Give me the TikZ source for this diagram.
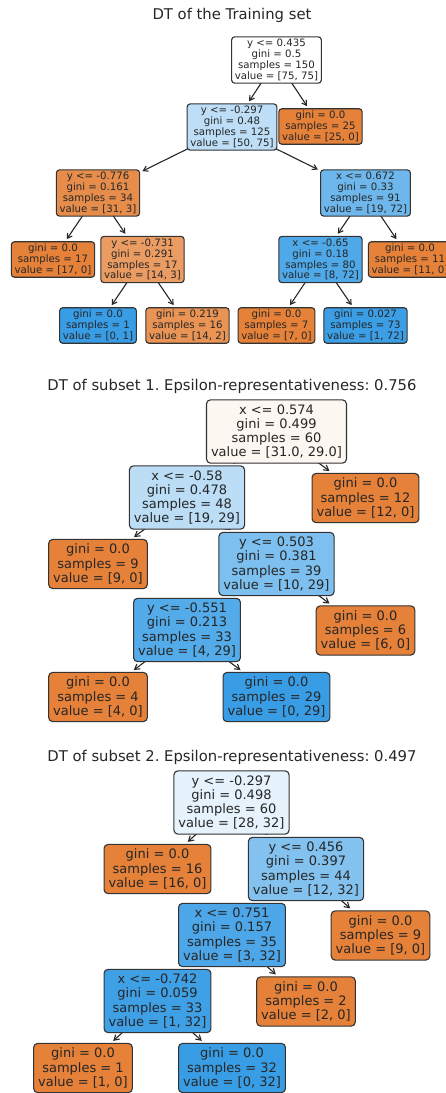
\documentclass[tikz,border=0pt]{standalone}
\usepackage{fontspec}
\setmainfont{DejaVu Sans}
\usetikzlibrary{arrows.meta,backgrounds}
\frenchspacing
\definecolor{org}{RGB}{229,129,57}
\definecolor{blu}{RGB}{57,157,229}
\definecolor{ca1}{RGB}{189,222,246}
\definecolor{ca3}{RGB}{231,141,76}
\definecolor{ca4}{RGB}{109,183,236}
\definecolor{ca6}{RGB}{235,156,99}
\definecolor{ca7}{RGB}{79,168,232}
\definecolor{ca10}{RGB}{233,147,85}
\definecolor{ca12}{RGB}{60,158,229}
\definecolor{cb0}{RGB}{253,247,242}
\definecolor{cb1}{RGB}{187,221,246}
\definecolor{cb4}{RGB}{125,191,238}
\definecolor{cb5}{RGB}{84,171,233}
\definecolor{cc0}{RGB}{230,243,252}
\definecolor{cc2}{RGB}{131,194,239}
\definecolor{cc3}{RGB}{76,166,231}
\definecolor{cc5}{RGB}{63,160,230}
\definecolor{ink}{RGB}{38,38,38}
\tikzset{
  nd/.style={draw=black!80, line width=1.1pt, align=center, text=ink},
  tz/.style={nd, rounded corners=3pt, font=\fontsize{10.2}{10.9}\selectfont, inner xsep=3.2pt, inner ysep=2.3pt},
  to/.style={nd, rounded corners=4pt, font=\fontsize{13}{14.3}\selectfont, inner xsep=4.5pt, inner ysep=4.5pt},
  edgez/.style={draw=ink, line width=1.1pt, -{Straight Barb[length=4.5pt,width=5.5pt]}, shorten >=2.5pt},
  edgeo/.style={draw=ink, line width=1.1pt, -{Straight Barb[length=5pt,width=6pt]}, shorten >=3pt},
  ttl/.style={font=\fontsize{14.8}{17}\selectfont, text=ink, inner sep=0pt}
}
\begin{document}
\begin{tikzpicture}[x=1pt,y=-1pt]
\clip (0,0) rectangle (446,1093);
% titles
\node[ttl] (t0) at (232,15) {DT of the Training set};
\node[ttl] (t1) at (232,386) {DT of subset 1. Epsilon-representativeness: 0.756};
\node[ttl] (t2) at (232,757) {DT of subset 2. Epsilon-representativeness: 0.497};
% training tree
\node[tz, fill=white] (A0) at (276.5,60) {y <= 0.435\\gini = 0.5\\samples = 150\\value = [75, 75]};
\node[tz, fill=ca1] (A1) at (232,127) {y <= -0.297\\gini = 0.48\\samples = 125\\value = [50, 75]};
\node[tz, fill=org] (A2) at (320.5,126.5) {gini = 0.0\\samples = 25\\value = [25, 0]};
\node[tz, fill=ca3] (A3) at (98,193) {y <= -0.776\\gini = 0.161\\samples = 34\\value = [31, 3]};
\node[tz, fill=ca4] (A4) at (365.5,193) {x <= 0.672\\gini = 0.33\\samples = 91\\value = [19, 72]};
\node[tz, fill=org] (A5) at (53,259.5) {gini = 0.0\\samples = 17\\value = [17, 0]};
\node[tz, fill=ca6] (A6) at (142.5,259.5) {y <= -0.731\\gini = 0.291\\samples = 17\\value = [14, 3]};
\node[tz, fill=ca7] (A7) at (320.5,259.5) {x <= -0.65\\gini = 0.18\\samples = 80\\value = [8, 72]};
\node[tz, fill=org] (A8) at (410,259.5) {gini = 0.0\\samples = 11\\value = [11, 0]};
\node[tz, fill=blu] (A9) at (98,325.5) {gini = 0.0\\samples = 1\\value = [0, 1]};
\node[tz, fill=ca10] (A10) at (187.5,325.5) {gini = 0.219\\samples = 16\\value = [14, 2]};
\node[tz, fill=org] (A11) at (276.5,325.5) {gini = 0.0\\samples = 7\\value = [7, 0]};
\node[tz, fill=ca12] (A12) at (365.5,325.5) {gini = 0.027\\samples = 73\\value = [1, 72]};
% subset 1
\node[to, fill=cb0] (B0) at (276.5,431.5) {x <= 0.574\\gini = 0.499\\samples = 60\\value = [31.0, 29.0]};
\node[to, fill=cb1] (B1) at (187,497.5) {x <= -0.58\\gini = 0.478\\samples = 48\\value = [19, 29]};
\node[to, fill=org] (B2) at (365.5,498) {gini = 0.0\\samples = 12\\value = [12, 0]};
\node[to, fill=org] (B3) at (98,564) {gini = 0.0\\samples = 9\\value = [9, 0]};
\node[to, fill=cb4] (B4) at (276.5,564) {y <= 0.503\\gini = 0.381\\samples = 39\\value = [10, 29]};
\node[to, fill=cb5] (B5) at (187,630) {y <= -0.551\\gini = 0.213\\samples = 33\\value = [4, 29]};
\node[to, fill=org] (B6) at (365.5,630.5) {gini = 0.0\\samples = 6\\value = [6, 0]};
\node[to, fill=org] (B7) at (98,697) {gini = 0.0\\samples = 4\\value = [4, 0]};
\node[to, fill=blu] (B8) at (276.5,697) {gini = 0.0\\samples = 29\\value = [0, 29]};
% subset 2
\node[to, fill=cc0] (C0) at (231.5,802.5) {y <= -0.297\\gini = 0.498\\samples = 60\\value = [28, 32]};
\node[to, fill=org] (C1) at (157.5,869) {gini = 0.0\\samples = 16\\value = [16, 0]};
\node[to, fill=cc2] (C2) at (306,869) {y <= 0.456\\gini = 0.397\\samples = 44\\value = [12, 32]};
\node[to, fill=cc3] (C3) at (232,935) {x <= 0.751\\gini = 0.157\\samples = 35\\value = [3, 32]};
\node[to, fill=org] (C4) at (380.5,935.5) {gini = 0.0\\samples = 9\\value = [9, 0]};
\node[to, fill=cc5] (C5) at (157.5,1001) {x <= -0.742\\gini = 0.059\\samples = 33\\value = [1, 32]};
\node[to, fill=org] (C6) at (306,1001.5) {gini = 0.0\\samples = 2\\value = [2, 0]};
\node[to, fill=org] (C7) at (83,1068) {gini = 0.0\\samples = 1\\value = [1, 0]};
\node[to, fill=blu] (C8) at (232,1068) {gini = 0.0\\samples = 32\\value = [0, 32]};
\begin{scope}[on background layer]
\fill[white] (0,0) rectangle (446,1093);
\foreach \p/\c in {A0/A1,A0/A2,A1/A3,A1/A4,A3/A5,A3/A6,A4/A7,A4/A8,A6/A9,A6/A10,A7/A11,A7/A12}
  \draw[edgez] (\p.center) -- (\c);
\foreach \p/\c in {B0/B1,B0/B2,B1/B3,B1/B4,B4/B5,B4/B6,B5/B7,B5/B8,C0/C1,C0/C2,C2/C3,C2/C4,C3/C5,C3/C6,C5/C7,C5/C8}
  \draw[edgeo] (\p.center) -- (\c);
\end{scope}
\end{tikzpicture}
\end{document}
